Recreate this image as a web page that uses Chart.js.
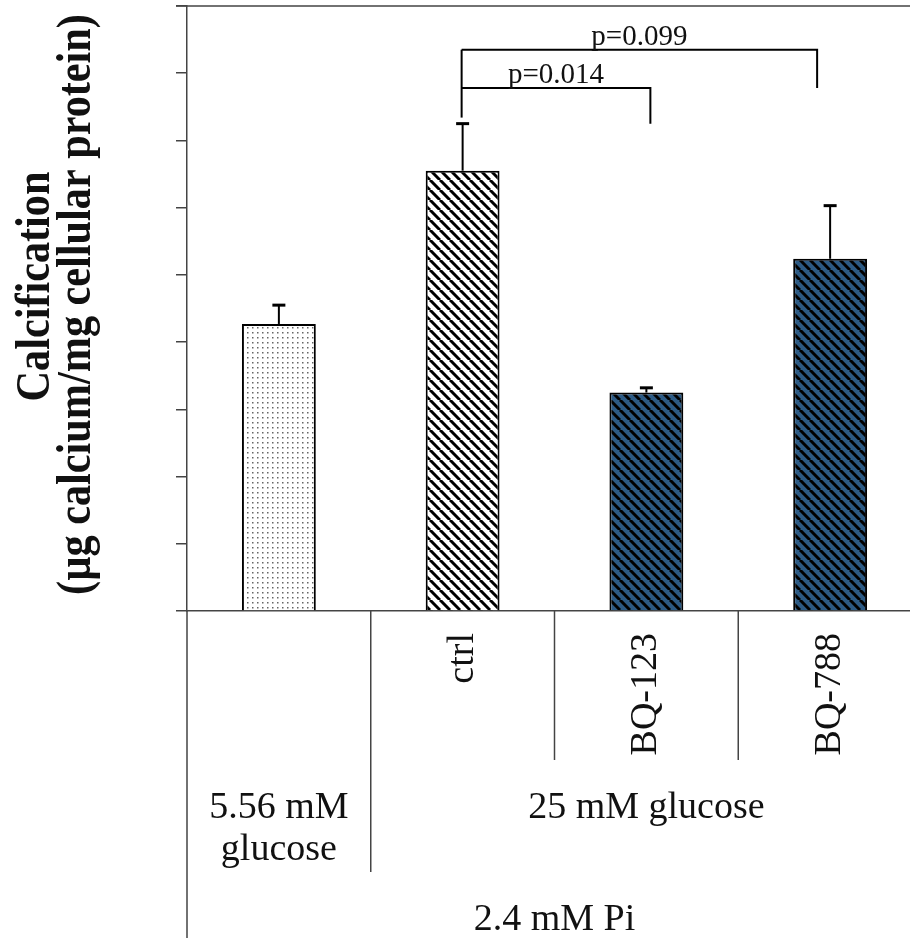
<!DOCTYPE html>
<html>
<head>
<meta charset="utf-8">
<title>Calcification</title>
<script src="https://cdn.jsdelivr.net/npm/chart.js@4.4.1/dist/chart.umd.min.js"></script>
<style>
    html, body { margin: 0; padding: 0; background: #fff; overflow: hidden; }
    #wrap { width: 930px; height: 938px; position: relative; }
</style>
</head>
<body>
<div id="wrap"><canvas id="calcChart"></canvas></div>
<script>
// values (tick labels are blank in the original, 1 unit per tick)
const categories = ['', 'ctrl', 'BQ-123', 'BQ-788'];
const calcMeans = [4.27, 6.55, 3.25, 5.24];
const calcErrors = [0.28, 0.70, 0.07, 0.79];
const yMin = 0;
const yMax = 9;
const yStep = 1;

// significance brackets: from / to category index, bar level, right drop, text
const bracketFrom = [1, 1];
const bracketTo = [2, 3];
const bracketLevels = [7.78, 8.35];
const bracketDrops = [7.25, 7.78];
const bracketLeftDrop = 7.34;
const bracketTexts = ['p=0.014', 'p=0.099'];

// grouping rows under the axis
const glucoseLabels = [['5.56 mM', 'glucose'], ['25 mM glucose']];
const phosphateLabel = '2.4 mM Pi';
const yTitle = ['Calcification', '(\u00b5g calcium/mg cellular protein)'];

const serif = '"Liberation Serif", "Times New Roman", serif';
const ink = '#111';
const axisGrey = '#444';

function makeStripes(bg, size, width) {
    const c = document.createElement('canvas');
    c.width = size;
    c.height = size;
    const g = c.getContext('2d');
    g.fillStyle = bg;
    g.fillRect(0, 0, size, size);
    g.strokeStyle = '#000';
    g.lineWidth = width;
    g.beginPath();
    for (let k = -1; k <= 1; k++) {
        g.moveTo(k * size, 0);
        g.lineTo(k * size + size, size);
    }
    g.stroke();
    return g.createPattern(c, 'repeat');
}

function makeDots() {
    const c = document.createElement('canvas');
    c.width = 5;
    c.height = 5;
    const g = c.getContext('2d');
    g.fillStyle = '#fff';
    g.fillRect(0, 0, 5, 5);
    g.fillStyle = '#666';
    g.fillRect(2, 2, 1.5, 1.5);
    return g.createPattern(c, 'repeat');
}

const barFills = [
    makeDots(),
    makeStripes('#fff', 10, 3),
    makeStripes('#2c5a84', 10, 3),
    makeStripes('#2c5a84', 10, 3)
];

const annotations = {
    id: 'annotations',
    afterDatasetsDraw(chart) {
        const ctx = chart.ctx;
        const x = chart.scales.x;
        const y = chart.scales.y;

        // error bars, upper half only
        ctx.save();
        ctx.strokeStyle = '#000';
        calcMeans.forEach((m, i) => {
            const cx = x.getPixelForValue(i);
            const top = y.getPixelForValue(m + calcErrors[i]);
            ctx.lineWidth = 2;
            ctx.beginPath();
            ctx.moveTo(cx, y.getPixelForValue(m));
            ctx.lineTo(cx, top);
            ctx.stroke();
            ctx.lineWidth = 3;
            ctx.beginPath();
            ctx.moveTo(cx - 6.5, top);
            ctx.lineTo(cx + 6.5, top);
            ctx.stroke();
        });

        // brackets
        const nudge = [4, -13];
        ctx.lineWidth = 2;
        const leftX = x.getPixelForValue(bracketFrom[0]) - 1;
        ctx.beginPath();
        ctx.moveTo(leftX, y.getPixelForValue(Math.max(...bracketLevels)));
        ctx.lineTo(leftX, y.getPixelForValue(bracketLeftDrop));
        ctx.stroke();
        ctx.font = '29px ' + serif;
        ctx.fillStyle = ink;
        ctx.textAlign = 'center';
        ctx.textBaseline = 'alphabetic';
        bracketTexts.forEach((t, i) => {
            const x0 = x.getPixelForValue(bracketFrom[i]) - 1;
            const x1 = x.getPixelForValue(bracketTo[i]) + nudge[i];
            const lvl = y.getPixelForValue(bracketLevels[i]);
            ctx.beginPath();
            ctx.moveTo(x0, lvl);
            ctx.lineTo(x1, lvl);
            ctx.lineTo(x1, y.getPixelForValue(bracketDrops[i]));
            ctx.stroke();
            ctx.fillText(t, (x0 + x1) / 2, lvl - 5);
        });
        ctx.restore();
    },
    afterDraw(chart) {
        const ctx = chart.ctx;
        const x = chart.scales.x;
        const area = chart.chartArea;
        ctx.save();

        // top frame line and axis line carried down through the label rows
        ctx.strokeStyle = axisGrey;
        ctx.lineWidth = 1.5;
        ctx.beginPath();
        ctx.moveTo(area.left - 11, area.top);
        ctx.lineTo(area.right, area.top);
        ctx.moveTo(area.left, area.bottom);
        ctx.lineTo(area.left, chart.height);
        ctx.stroke();

        // category separators
        const seps = [872, 760, 760];
        for (let i = 1; i < categories.length; i++) {
            const bx = (x.getPixelForValue(i - 1) + x.getPixelForValue(i)) / 2;
            ctx.beginPath();
            ctx.moveTo(bx, area.bottom);
            ctx.lineTo(bx, seps[i - 1]);
            ctx.stroke();
        }

        // group labels
        ctx.fillStyle = ink;
        ctx.font = '38px ' + serif;
        ctx.textAlign = 'center';
        ctx.textBaseline = 'alphabetic';
        const c0 = x.getPixelForValue(0);
        glucoseLabels[0].forEach((t, i) => ctx.fillText(t, c0, 818 + i * 42));
        const restLeft = (x.getPixelForValue(0) + x.getPixelForValue(1)) / 2;
        ctx.fillText(glucoseLabels[1][0], (restLeft + area.right) / 2, 818);
        ctx.fillText(phosphateLabel, (area.left + area.right) / 2, 930);

        // y axis title, bold and a little condensed
        ctx.font = 'bold 48px ' + serif;
        const mid = (area.top + area.bottom) / 2;
        [[49, mid - 22], [90, mid - 4]].forEach((p, i) => {
            ctx.save();
            ctx.translate(p[0], p[1]);
            ctx.rotate(-Math.PI / 2);
            ctx.scale(0.88, 1);
            ctx.fillText(yTitle[i], 0, 0);
            ctx.restore();
        });
        ctx.restore();
    }
};

const ctx = document.getElementById('calcChart').getContext('2d');
const calcChart = new Chart(ctx, {
    type: 'bar',
    data: {
        labels: categories,
        datasets: [{
            data: calcMeans,
            backgroundColor: barFills,
            borderColor: '#000',
            borderWidth: 2,
            barPercentage: 0.402,
            categoryPercentage: 1
        }]
    },
    options: {
        responsive: true,
        maintainAspectRatio: false,
        animation: false,
        layout: {
            padding: { left: 0, right: 8, top: 6, bottom: 0 }
        },
        plugins: {
            legend: { display: false },
            tooltip: { enabled: false }
        },
        scales: {
            x: {
                offset: true,
                grid: { display: false, drawTicks: false },
                border: { display: true, color: axisGrey, width: 1.5 },
                ticks: {
                    autoSkip: false,
                    minRotation: 90,
                    maxRotation: 90,
                    padding: 22,
                    color: ink,
                    font: { family: serif, size: 38 }
                },
                afterFit(scale) {
                    scale.height = 327;
                }
            },
            y: {
                min: yMin,
                max: yMax,
                ticks: { stepSize: yStep, display: false },
                grid: {
                    drawOnChartArea: false,
                    drawTicks: true,
                    tickLength: 11,
                    color: axisGrey,
                    lineWidth: 1.5
                },
                border: { display: true, color: axisGrey, width: 1.5 },
                afterFit(scale) {
                    scale.width = 187;
                }
            }
        }
    },
    plugins: [annotations]
});
</script>
</body>
</html>
